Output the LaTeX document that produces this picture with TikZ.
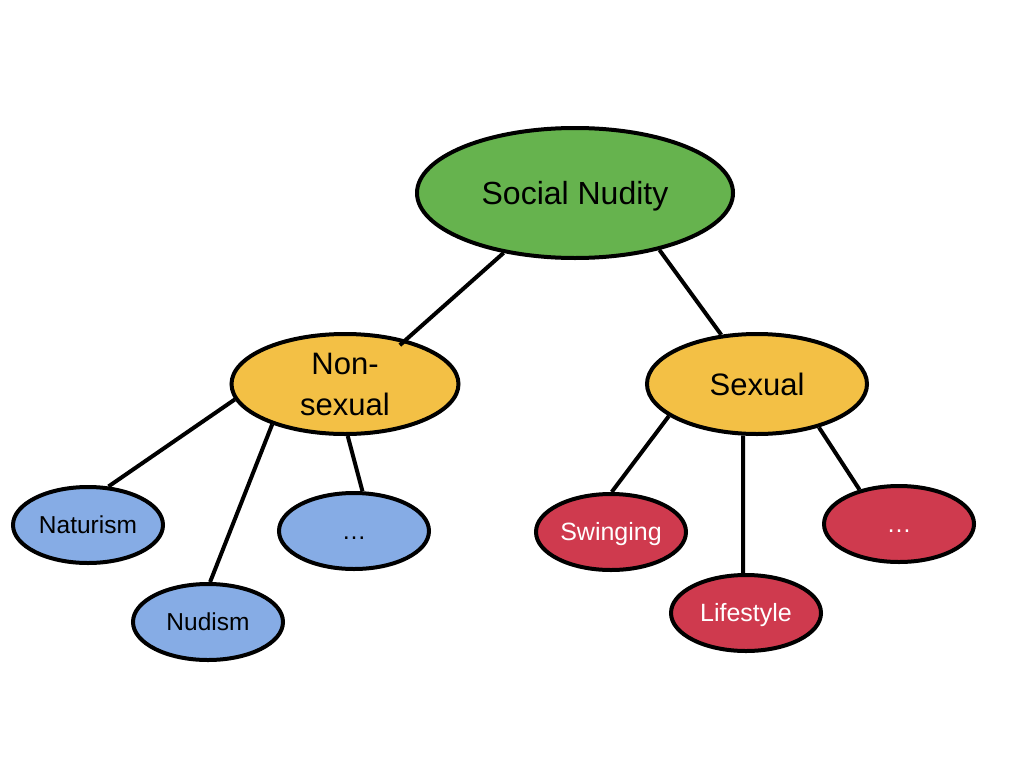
\documentclass[tikz,border=0pt]{standalone}
\usepackage{fontspec}
\setmainfont{Liberation Sans}
\usetikzlibrary{shapes.geometric}
\definecolor{cgreen}{HTML}{66B34E}
\definecolor{cyellow}{HTML}{F3C045}
\definecolor{cblue}{HTML}{86ACE5}
\definecolor{cred}{HTML}{CF3A4E}
\tikzset{
  oval/.style={ellipse, draw=black, line width=4pt, inner sep=0pt},
  big/.style={oval, text height=23pt, text depth=0pt, fill=cgreen, minimum width=316pt, minimum height=130pt, font=\fontsize{32}{38}\selectfont},
  mid/.style={oval, fill=cyellow, minimum height=100pt, font=\fontsize{31}{41}\selectfont, align=center},
  leafb/.style={oval, text height=17.6pt, text depth=0pt, fill=cblue, minimum width=150pt, minimum height=76pt, font=\fontsize{24.5}{30}\selectfont},
  leafr/.style={oval, text height=17.9pt, text depth=0pt, fill=cred, text=white, minimum width=150pt, minimum height=76pt, font=\fontsize{25}{30}\selectfont},
  link/.style={line width=4pt, draw=black}
}
\begin{document}
\begin{tikzpicture}[x=1pt,y=-1pt]
\useasboundingbox (0,0) rectangle (1024,768);
\node[big] (sn) at (575,193) {Social Nudity};
\node[mid, minimum width=227pt] (ns) at (345,384) {Non-\\sexual};
\node[mid, text height=22.3pt, text depth=0pt, minimum width=220pt] (sx) at (757,384) {Sexual};
\node[leafb] (nat) at (88,525) {Naturism};
\node[leafb] (nud) at (208,622) {Nudism};
\node[leafb] (bd) at (354,531) {…};
\node[leafr] (sw) at (611,532) {Swinging};
\node[leafr] (ls) at (746,613) {Lifestyle};
\node[leafr] (rd) at (899,524) {…};
\draw[link, shorten >=-8pt] (sn.220) -- (ns.36);
\draw[link] (sn.326) -- (sx.126);
\draw[link] (ns.188) -- (nat.62);
\draw[link] (ns.209) -- (nud.87);
\draw[link] (ns.273) -- (bd.78);
\draw[link] (sx.200) -- (sw.89);
\draw[link] (sx.255) -- (ls.94);
\draw[link] (sx.325) -- (rd.139);
\end{tikzpicture}
\end{document}
